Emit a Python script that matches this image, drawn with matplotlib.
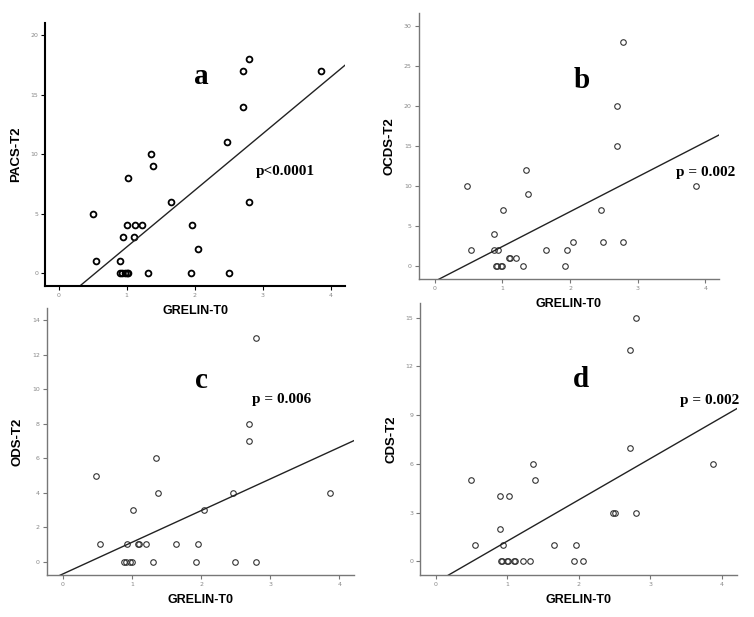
import matplotlib.pyplot as plt
import numpy as np

# GRELIN-T0 vs score at T2, four panels

# panel a  (PACS-T2)
grel_a = [0.50, 0.55, 0.90, 0.90, 0.93, 0.97, 1.00, 1.02, 0.95, 1.00, 1.02, 1.11, 1.12, 1.22,
          1.31, 1.36, 1.39, 1.65, 1.94, 1.96, 2.05, 2.47, 2.50, 2.71, 2.71, 2.80, 2.80, 3.86]
pacs_a = [5, 1, 1, 0, 0, 0, 0, 0, 3, 4, 8, 3, 4, 4,
          0, 10, 9, 6, 0, 4, 2, 11, 0, 14, 17, 18, 6, 17]
fit_a = (-2.59, 4.77)

# panel b  (OCDS-T2)
grel_b = [0.47, 0.53, 0.87, 0.87, 0.94, 0.90, 0.92, 0.98, 1.00, 1.01, 1.09, 1.11, 1.20,
          1.30, 1.35, 1.38, 1.64, 1.93, 1.95, 2.04, 2.46, 2.49, 2.70, 2.70, 2.79, 2.79, 3.87]
ocds_b = [10, 2, 4, 2, 2, 0, 0, 0, 0, 7, 1, 1, 1,
          0, 12, 9, 2, 0, 2, 3, 7, 3, 20, 15, 28, 3, 10]
fit_b = (-1.95, 4.35)

# panel c  (ODS-T2)
grel_c = [0.48, 0.54, 0.93, 0.88, 0.91, 0.98, 1.00, 1.01, 1.09, 1.11, 1.20, 1.30,
          1.35, 1.38, 1.64, 1.93, 1.95, 2.04, 2.46, 2.49, 2.70, 2.70, 2.79, 2.79, 3.87]
ods_c = [5, 1, 1, 0, 0, 0, 0, 3, 1, 1, 1, 0,
         6, 4, 1, 0, 1, 3, 4, 0, 8, 7, 13, 0, 4]
fit_c = (-0.72, 1.84)

# panel d  (CDS-T2)
grel_d = [0.49, 0.54, 0.89, 0.89, 0.94, 0.91, 0.93, 0.99, 1.01, 1.02, 1.09, 1.11, 1.21,
          1.31, 1.36, 1.39, 1.65, 1.93, 1.96, 2.05, 2.48, 2.50, 2.71, 2.71, 2.80, 2.80, 3.87]
cds_d = [5, 1, 4, 2, 1, 0, 0, 0, 0, 4, 0, 0, 0,
         0, 6, 5, 1, 0, 1, 0, 3, 3, 7, 13, 15, 3, 6]
fit_d = (-1.29, 2.54)

fig = plt.figure(figsize=(7.54, 6.17), dpi=100)

panels = [
    # rect, x, y, fit, ylabel, yticks, ylim, xlim, letter, letter pos, ptext, ptext pos, bold axes
    ([0.0597, 0.5365, 0.3979, 0.4265], grel_a, pacs_a, fit_a, 'PACS-T2', [0, 5, 10, 15, 20],
     (-1.1, 21.06), (-0.2, 4.21), 'a', (2.10, 16.5), 'p<0.0001', (2.90, 8.5), True),
    ([0.5553, 0.5483, 0.3979, 0.4301], grel_b, ocds_b, fit_b, 'OCDS-T2', [0, 5, 10, 15, 20, 25, 30],
     (-1.63, 31.55), (-0.24, 4.2), 'b', (2.17, 23.2), 'p = 0.002', (3.57, 11.7), False),
    ([0.0619, 0.0676, 0.4076, 0.4332], grel_c, ods_c, fit_c, 'ODS-T2', [0, 2, 4, 6, 8, 10, 12, 14],
     (-0.79, 14.72), (-0.23, 4.21), 'c', (2.0, 10.5), 'p = 0.006', (2.73, 9.4), False),
    ([0.5574, 0.0676, 0.4200, 0.4413], grel_d, cds_d, fit_d, 'CDS-T2', [0, 3, 6, 9, 12, 15],
     (-0.86, 15.9), (-0.22, 4.21), 'd', (2.03, 11.2), 'p = 0.002', (3.42, 9.9), False),
]

for rect, xs, ys, fit, ylab, yt, ylim, xlim, letter, lpos, ptxt, ppos, bold in panels:
    ax = fig.add_axes(rect)
    ax.patch.set_alpha(0)
    spc = 'black' if bold else '#777777'
    ec = 'black' if bold else '#333333'
    ax.plot(xs, ys, 'o', mfc='none', mec=ec, ms=4.2 if bold else 4.0,
            mew=1.3 if bold else 0.8, linestyle='none')
    xx = np.array(xlim)
    ax.plot(xx, fit[0] + fit[1] * xx, color='#222222', lw=1.0)
    ax.set_xlim(xlim)
    ax.set_ylim(ylim)
    ax.set_xticks([0, 1, 2, 3, 4])
    ax.set_yticks(yt)
    for s in ['top', 'right']:
        ax.spines[s].set_visible(False)
    for s in ['left', 'bottom']:
        ax.spines[s].set_color(spc)
        ax.spines[s].set_linewidth(1.5 if bold else 1.0)
    ax.tick_params(direction='out', length=3, width=0.8, color=spc,
                   labelsize=4.5, labelcolor='#888888', pad=2)
    ax.set_xlabel('GRELIN-T0', fontsize=9, fontweight='bold',
                  family='Liberation Sans', labelpad=5)
    ax.set_ylabel(ylab, fontsize=9.5, fontweight='bold',
                  family='Liberation Sans', labelpad=6)
    ax.text(lpos[0], lpos[1], letter, fontsize=21, fontweight='bold',
            family='Liberation Serif', ha='center', va='center')
    ax.text(ppos[0], ppos[1], ptxt, fontsize=11, fontweight='bold',
            family='Liberation Serif', ha='left', va='center')

fig.savefig('out.png', dpi=100)
